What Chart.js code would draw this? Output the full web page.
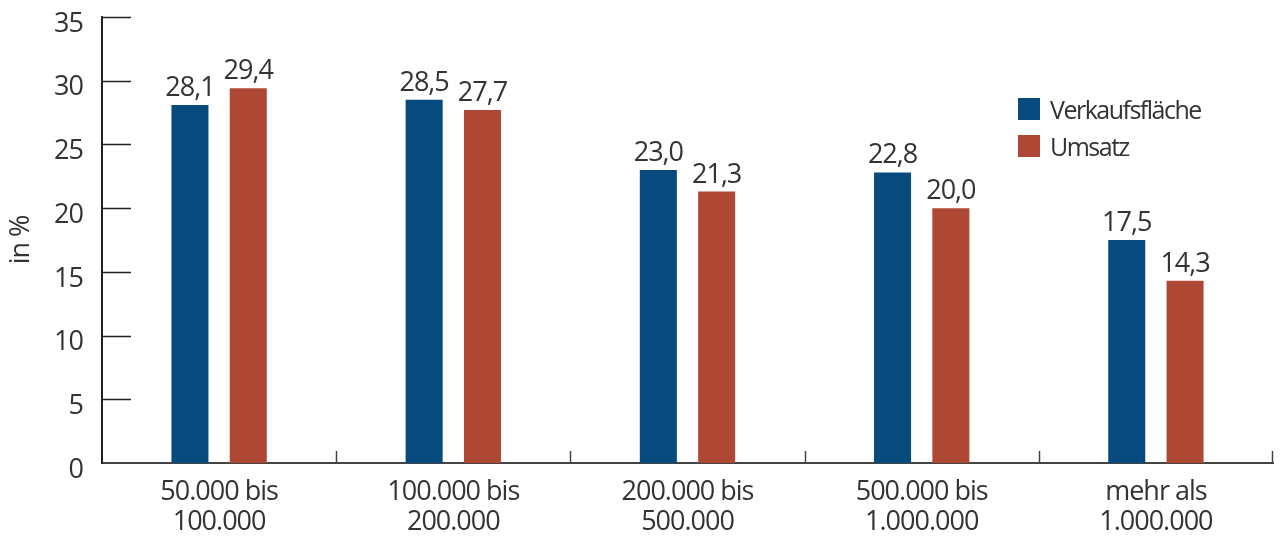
<!DOCTYPE html>
<html><head><meta charset="utf-8">
<script src="https://cdn.jsdelivr.net/npm/chart.js@4"></script>
<style>html,body{margin:0;padding:0;background:#fff;overflow:hidden}</style>
</head><body>
<canvas id="c" width="1280" height="538"></canvas>
<script>
const categories = [["50.000 bis","100.000"],["100.000 bis","200.000"],["200.000 bis","500.000"],["500.000 bis","1.000.000"],["mehr als","1.000.000"]];
const verkaufsflaeche = [28.1, 28.5, 23.0, 22.8, 17.5];
const umsatz = [29.4, 27.7, 21.3, 20.0, 14.3];
const seriesNames = ["Verkaufsfläche", "Umsatz"];
const seriesColors = ["#064a7e", "#ae4834"];
const yTickValues = [0, 5, 10, 15, 20, 25, 30, 35];
const yTitle = "in %";

const FONT = '"Open Sans", sans-serif';
const TEXT = '#333333';

const spacingPlugin = {
  id: 'spacing',
  beforeUpdate(chart) { chart.ctx.letterSpacing = '-1px'; },
  beforeDraw(chart) { chart.ctx.letterSpacing = '-1px'; }
};

const decorPlugin = {
  id: 'decor',
  afterDatasetsDraw(chart) {
    const { ctx, chartArea: a, scales: { x, y } } = chart;
    ctx.save();
    // inward y ticks
    ctx.strokeStyle = '#222';
    ctx.lineWidth = 1.5;
    y.ticks.forEach(t => {
      if (t.value === 0) return;
      const py = Math.round(y.getPixelForValue(t.value)) + 0.5;
      ctx.beginPath(); ctx.moveTo(a.left, py); ctx.lineTo(a.left + 29, py); ctx.stroke();
    });
    // x category separators (upward)
    ctx.strokeStyle = '#444';
    for (let i = 0; i < categories.length; i++) {
      const px = i < categories.length - 1
        ? (x.getPixelForValue(i) + x.getPixelForValue(i + 1)) / 2
        : a.right - 1;
      const rx = Math.round(px) + 0.5;
      ctx.beginPath(); ctx.moveTo(rx, a.bottom); ctx.lineTo(rx, a.bottom - 12); ctx.stroke();
    }
    // value labels
    ctx.font = `27px ${FONT}`;
    ctx.fillStyle = TEXT;
    ctx.textAlign = 'center';
    ctx.textBaseline = 'alphabetic';
    ctx.letterSpacing = '-1px';
    chart.data.datasets.forEach((ds, di) => {
      chart.getDatasetMeta(di).data.forEach((bar, i) => {
        ctx.fillText(ds.data[i].toFixed(1).replace('.', ','), bar.x, bar.y - 9);
      });
    });
    // legend
    ctx.font = `25px ${FONT}`;
    ctx.letterSpacing = '-1.5px';
    ctx.textAlign = 'left';
    chart.data.datasets.forEach((ds, di) => {
      const top = 98 + di * 37;
      ctx.fillStyle = ds.backgroundColor;
      ctx.fillRect(1018, top, 22, 22);
      ctx.fillStyle = TEXT;
      ctx.fillText(ds.label, 1050, top + 21);
    });
    ctx.restore();
  }
};

new Chart(document.getElementById('c'), {
  type: 'bar',
  data: {
    labels: categories,
    datasets: [
      { label: seriesNames[0], data: verkaufsflaeche, backgroundColor: seriesColors[0] },
      { label: seriesNames[1], data: umsatz, backgroundColor: seriesColors[1] }
    ]
  },
  options: {
    responsive: false,
    animation: false,
    devicePixelRatio: 1,
    categoryPercentage: 0.498,
    barPercentage: 0.635,
    layout: { padding: { left: 0, right: 7, top: 17, bottom: 0 } },
    plugins: { legend: { display: false }, tooltip: { enabled: false } },
    scales: {
      x: {
        grid: { display: false, drawTicks: false },
        border: { display: true, color: '#444', width: 2 },
        ticks: { color: TEXT, font: { family: FONT, size: 27, lineHeight: '30px' }, padding: 14, maxRotation: 0, autoSkip: false },
        afterFit(s) { s.height = 75; s.paddingLeft = 0; s.paddingRight = 0; }
      },
      y: {
        min: 0, max: 35,
        afterBuildTicks(s) { s.ticks = yTickValues.map(v => ({ value: v })); },
        grid: { display: false, drawTicks: false },
        border: { display: true, color: '#222', width: 2 },
        ticks: { color: TEXT, font: { family: FONT, size: 27 }, padding: 19, labelOffset: 7 },
        title: { display: true, text: yTitle, color: TEXT, font: { family: FONT, size: 27 }, padding: { top: 5, bottom: 0 } },
        afterFit(s) { s.width = 102; s.paddingTop = 0; s.paddingBottom = 0; }
      }
    }
  },
  plugins: [spacingPlugin, decorPlugin]
});
</script>
</body></html>
